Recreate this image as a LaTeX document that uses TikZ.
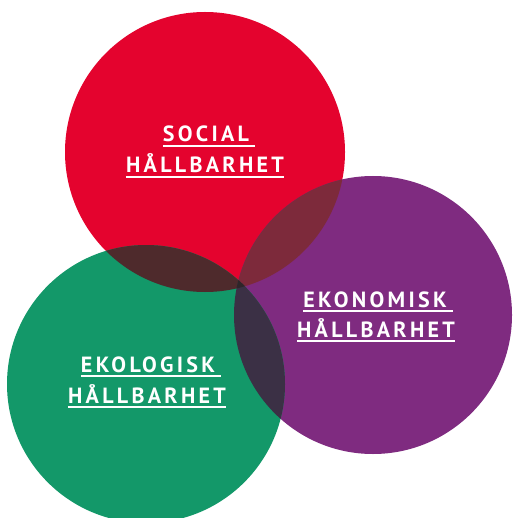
\documentclass[tikz,border=0pt]{standalone}
\usepackage{fontspec}
\setsansfont{PT Sans}[LetterSpace=15]
\usetikzlibrary{positioning}

\definecolor{socialred}{HTML}{E4032E}
\definecolor{ekonpurple}{HTML}{7F2B80}
\definecolor{ekolgreen}{HTML}{139869}
\definecolor{redpurple}{HTML}{7D2A3B}
\definecolor{redgreen}{HTML}{4E2A2C}
\definecolor{greenpurple}{HTML}{3B3045}
\definecolor{allthree}{HTML}{2E2529}

\tikzset{
  lbl/.style={text=white, inner sep=0pt, text depth=4pt, anchor=base,
              font=\sffamily\bfseries\fontsize{22}{22}\selectfont},
  uline/.style={draw=white, line width=1.6pt}
}

\begin{document}
\begin{tikzpicture}[x=1pt,y=-1pt]

      \useasboundingbox (0,0) rectangle (512,518);

      \coordinate (soc) at (205,152);
      \coordinate (ekon) at (373,315);
      \coordinate (ekol) at (146,384);

      % circles
      \fill[socialred]  (soc)  circle (140pt);
      \fill[ekonpurple] (ekon) circle (139pt);
      \fill[ekolgreen]  (ekol) circle (139pt);

      % overlaps
      \begin{scope}
        \clip (soc) circle (140pt);
        \fill[redpurple] (ekon) circle (139pt);
        \fill[redgreen]  (ekol) circle (139pt);
      \end{scope}
      \begin{scope}
        \clip (ekon) circle (139pt);
        \fill[greenpurple] (ekol) circle (139pt);
        \clip (soc) circle (140pt);
        \fill[allthree] (ekol) circle (139pt);
      \end{scope}

      % labels
      \node[lbl] (soc1)  at (209,142) {SOCIAL\hspace*{6pt}};
      \node[lbl] (soc2)  at (205,173) {HÅLLBARHET};
      \node[lbl] (ekon1) at (378,307) {EKONOMISK\hspace*{6pt}};
      \node[lbl] (ekon2) at (376,337) {HÅLLBARHET};
      \node[lbl] (ekol1) at (151,372) {EKOLOGISK\hspace*{6pt}};
      \node[lbl] (ekol2) at (147,403) {HÅLLBARHET};

      \foreach \n in {soc1,soc2,ekon1,ekon2,ekol1,ekol2}
        \draw[uline] (\n.south west) -- (\n.south east);

\end{tikzpicture}
\end{document}
